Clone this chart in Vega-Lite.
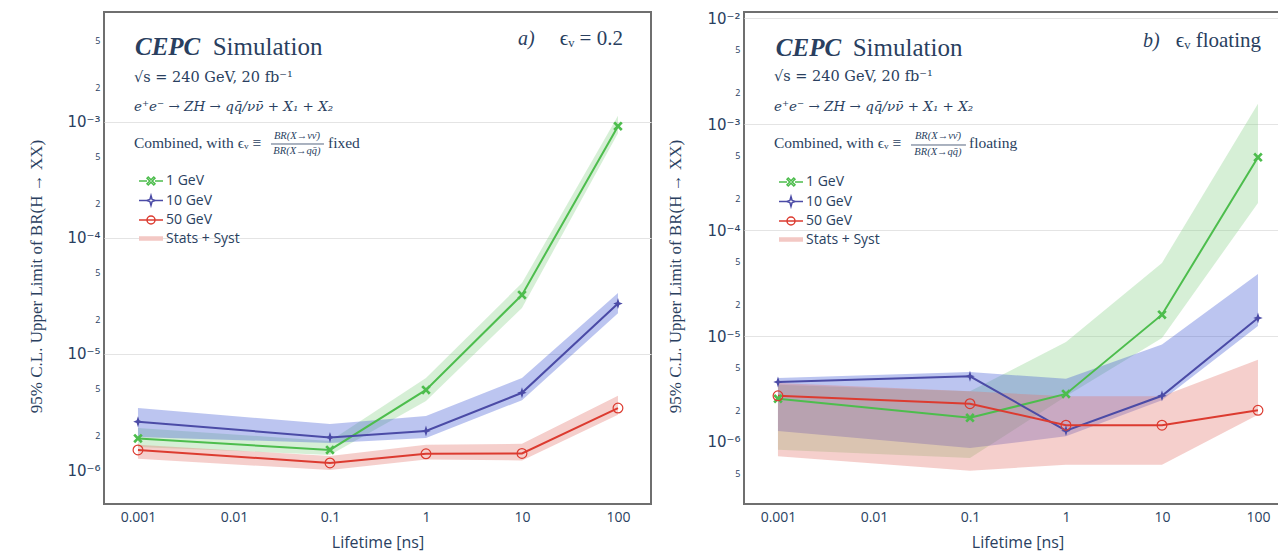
{
  "$schema": "https://vega.github.io/schema/vega-lite/v6.json",
  "usermeta": {"embedOptions": {"actions": false}},
  "background": "white",
  "padding": {"left": 26, "top": 10, "right": -13, "bottom": 0},
  "bounds": "flush",
  "spacing": 93,
  "datasets": {
    "limits": [
      {"panel": "a", "mass": "1 GeV", "lifetime": 0.001, "ul": 1.87e-6, "lo": 1.58e-6, "hi": 2.30e-6},
      {"panel": "a", "mass": "1 GeV", "lifetime": 0.1, "ul": 1.49e-6, "lo": 1.35e-6, "hi": 1.78e-6},
      {"panel": "a", "mass": "1 GeV", "lifetime": 1, "ul": 4.9e-6, "lo": 3.94e-6, "hi": 6.2e-6},
      {"panel": "a", "mass": "1 GeV", "lifetime": 10, "ul": 3.23e-5, "lo": 2.49e-5, "hi": 4.09e-5},
      {"panel": "a", "mass": "1 GeV", "lifetime": 100, "ul": 9.2e-4, "lo": 8.0e-4, "hi": 1.13e-3},
      {"panel": "a", "mass": "10 GeV", "lifetime": 0.001, "ul": 2.61e-6, "lo": 1.93e-6, "hi": 3.42e-6},
      {"panel": "a", "mass": "10 GeV", "lifetime": 0.1, "ul": 1.91e-6, "lo": 1.71e-6, "hi": 2.49e-6},
      {"panel": "a", "mass": "10 GeV", "lifetime": 1, "ul": 2.17e-6, "lo": 1.89e-6, "hi": 2.92e-6},
      {"panel": "a", "mass": "10 GeV", "lifetime": 10, "ul": 4.63e-6, "lo": 4.0e-6, "hi": 6.2e-6},
      {"panel": "a", "mass": "10 GeV", "lifetime": 100, "ul": 2.72e-5, "lo": 2.25e-5, "hi": 3.36e-5},
      {"panel": "a", "mass": "50 GeV", "lifetime": 0.001, "ul": 1.49e-6, "lo": 1.25e-6, "hi": 1.65e-6},
      {"panel": "a", "mass": "50 GeV", "lifetime": 0.1, "ul": 1.15e-6, "lo": 1.0e-6, "hi": 1.32e-6},
      {"panel": "a", "mass": "50 GeV", "lifetime": 1, "ul": 1.38e-6, "lo": 1.23e-6, "hi": 1.65e-6},
      {"panel": "a", "mass": "50 GeV", "lifetime": 10, "ul": 1.39e-6, "lo": 1.21e-6, "hi": 1.68e-6},
      {"panel": "a", "mass": "50 GeV", "lifetime": 100, "ul": 3.42e-6, "lo": 3.0e-6, "hi": 4.36e-6},
      {"panel": "b", "mass": "1 GeV", "lifetime": 0.001, "ul": 2.56e-6, "lo": 8.46e-7, "hi": 3.47e-6},
      {"panel": "b", "mass": "1 GeV", "lifetime": 0.1, "ul": 1.69e-6, "lo": 7.06e-7, "hi": 3.01e-6},
      {"panel": "b", "mass": "1 GeV", "lifetime": 1, "ul": 2.84e-6, "lo": 2.7e-6, "hi": 8.77e-6},
      {"panel": "b", "mass": "1 GeV", "lifetime": 10, "ul": 1.59e-5, "lo": 9.57e-6, "hi": 4.89e-5},
      {"panel": "b", "mass": "1 GeV", "lifetime": 100, "ul": 4.85e-4, "lo": 1.8e-4, "hi": 1.55e-3},
      {"panel": "b", "mass": "10 GeV", "lifetime": 0.001, "ul": 3.68e-6, "lo": 1.27e-6, "hi": 4.02e-6},
      {"panel": "b", "mass": "10 GeV", "lifetime": 0.1, "ul": 4.17e-6, "lo": 8.77e-7, "hi": 4.57e-6},
      {"panel": "b", "mass": "10 GeV", "lifetime": 1, "ul": 1.28e-6, "lo": 1.13e-6, "hi": 3.95e-6},
      {"panel": "b", "mass": "10 GeV", "lifetime": 10, "ul": 2.73e-6, "lo": 2.48e-6, "hi": 8.3e-6},
      {"panel": "b", "mass": "10 GeV", "lifetime": 100, "ul": 1.48e-5, "lo": 1.24e-5, "hi": 3.85e-5},
      {"panel": "b", "mass": "50 GeV", "lifetime": 0.001, "ul": 2.73e-6, "lo": 7.33e-7, "hi": 3.6e-6},
      {"panel": "b", "mass": "50 GeV", "lifetime": 0.1, "ul": 2.3e-6, "lo": 5.36e-7, "hi": 3.01e-6},
      {"panel": "b", "mass": "50 GeV", "lifetime": 1, "ul": 1.44e-6, "lo": 6.11e-7, "hi": 2.7e-6},
      {"panel": "b", "mass": "50 GeV", "lifetime": 10, "ul": 1.44e-6, "lo": 6.11e-7, "hi": 2.7e-6},
      {"panel": "b", "mass": "50 GeV", "lifetime": 100, "ul": 1.99e-6, "lo": 1.81e-6, "hi": 5.97e-6}
    ]
  },
  "config": {
    "font": "Open Sans",
    "view": {"stroke": "#6f6f6f", "strokeWidth": 2},
    "axis": {
      "labelColor": "#2a3f5f",
      "titleColor": "#2a3f5f",
      "labelFont": "Open Sans",
      "domain": false,
      "ticks": false,
      "gridColor": "#e4e4e4",
      "gridWidth": 1
    },
    "legend": {
      "title": null, "orient": "none", "padding": 0,
      "labelFont": "Open Sans", "labelFontSize": 14, "labelColor": "#2a3f5f",
      "symbolSize": 100, "symbolOffset": 7, "labelOffset": 8, "rowPadding": 4.5,
      "symbolStrokeWidth": 1.5, "symbolOpacity": 1
    }
  },
  "resolve": {
    "scale": {"x": "independent", "y": "independent", "color": "independent", "shape": "independent"},
    "legend": {"color": "independent", "shape": "independent"}
  },
  "hconcat": [
    {
      "width": 547,
      "height": 492,
      "data": {"name": "limits"},
      "transform": [{"filter": "datum.panel == 'a'"}],
      "layer": [
        {
          "transform": [{"filter": "datum.mass == '1 GeV'"}],
          "mark": {"type": "area", "opacity": 0.35, "color": "#8ad18a"},
          "encoding": {
            "x": {
              "field": "lifetime", "type": "quantitative",
              "scale": {"type": "log", "domain": [0.0004426, 220.8], "nice": false},
              "axis": {"values": [0.001, 0.01, 0.1, 1, 10, 100], "format": "~g", "labelFontSize": 14, "labelPadding": 6, "grid": false, "title": "Lifetime [ns]", "titleFont": "Open Sans", "titleFontSize": 16, "titleFontWeight": "normal", "titlePadding": 10}
            },
            "y": {
              "field": "lo", "type": "quantitative",
              "scale": {"type": "log", "domain": [5.093e-7, 8.87e-3], "nice": false},
              "axis": {
                "values": [1e-6, 2e-6, 5e-6, 1e-5, 2e-5, 5e-5, 1e-4, 2e-4, 5e-4, 1e-3, 2e-3, 5e-3],
                "labelExpr": "abs(log(datum.value)/LN10 - round(log(datum.value)/LN10)) < 0.001 ? '10⁻' + ['⁰','¹','²','³','⁴','⁵','⁶','⁷'][-round(log(datum.value)/LN10)] : format(datum.value / pow(10, floor(log(datum.value)/LN10 + 0.000001)), '.0f')",
                "labelFontSize": {"condition": {"test": "abs(log(datum.value)/LN10 - round(log(datum.value)/LN10)) < 0.001", "value": 15}, "value": 9},
                "labelFont": {"condition": {"test": "abs(log(datum.value)/LN10 - round(log(datum.value)/LN10)) < 0.001", "value": "DejaVu Sans"}, "value": "Open Sans"},
                "labelPadding": 4,
                "grid": true,
                "gridOpacity": {"condition": {"test": "abs(log(datum.value)/LN10 - round(log(datum.value)/LN10)) < 0.001 && datum.value > 2e-6", "value": 1}, "value": 0},
                "title": "95% C.L. Upper Limit of BR(H → XX)",
                "titleFont": "Liberation Serif",
                "titleFontSize": 17,
                "titleFontWeight": "normal",
                "titleX": -68,
                "titleY": 264,
                "titleBaseline": "middle"
              }
            },
            "y2": {"field": "hi"}
          }
        },
        {
          "transform": [{"filter": "datum.mass == '10 GeV'"}],
          "mark": {"type": "area", "opacity": 0.35, "color": "#4059d4"},
          "encoding": {"x": {"field": "lifetime", "type": "quantitative"}, "y": {"field": "lo", "type": "quantitative"}, "y2": {"field": "hi"}}
        },
        {
          "transform": [{"filter": "datum.mass == '50 GeV'"}],
          "mark": {"type": "area", "opacity": 0.35, "color": "#e2766d"},
          "encoding": {"x": {"field": "lifetime", "type": "quantitative"}, "y": {"field": "lo", "type": "quantitative"}, "y2": {"field": "hi"}}
        },
        {
          "transform": [{"filter": "datum.mass == '1 GeV'"}],
          "mark": {"type": "line", "strokeWidth": 2, "color": "#4dbd4d"},
          "encoding": {"x": {"field": "lifetime", "type": "quantitative"}, "y": {"field": "ul", "type": "quantitative"}}
        },
        {
          "transform": [{"filter": "datum.mass == '10 GeV'"}],
          "mark": {"type": "line", "strokeWidth": 2, "color": "#4b4ba6"},
          "encoding": {"x": {"field": "lifetime", "type": "quantitative"}, "y": {"field": "ul", "type": "quantitative"}}
        },
        {
          "transform": [{"filter": "datum.mass == '50 GeV'"}],
          "mark": {"type": "line", "strokeWidth": 2, "color": "#dc3b30"},
          "encoding": {"x": {"field": "lifetime", "type": "quantitative"}, "y": {"field": "ul", "type": "quantitative"}}
        },
        {
          "transform": [{"filter": "datum.mass == '1 GeV'"}],
          "mark": {"type": "point", "shape": "M-1,-0.6L-0.6,-1L0,-0.4L0.6,-1L1,-0.6L0.4,0L1,0.6L0.6,1L0,0.4L-0.6,1L-1,0.6L-0.4,0Z", "filled": true, "size": 90, "color": "#4dbd4d", "opacity": 1},
          "encoding": {"x": {"field": "lifetime", "type": "quantitative"}, "y": {"field": "ul", "type": "quantitative"}}
        },
        {
          "transform": [{"filter": "datum.mass == '10 GeV'"}],
          "mark": {"type": "point", "shape": "M0,-1.15L0.28,-0.28L1,0L0.28,0.28L0,1.15L-0.28,0.28L-1,0L-0.28,-0.28Z", "filled": true, "size": 90, "color": "#4b4ba6", "opacity": 1},
          "encoding": {"x": {"field": "lifetime", "type": "quantitative"}, "y": {"field": "ul", "type": "quantitative"}}
        },
        {
          "transform": [{"filter": "datum.mass == '50 GeV'"}],
          "mark": {"type": "point", "shape": "circle", "filled": false, "size": 95, "strokeWidth": 1.2, "color": "#dc3b30", "opacity": 1},
          "encoding": {"x": {"field": "lifetime", "type": "quantitative"}, "y": {"field": "ul", "type": "quantitative"}}
        },
        {
          "mark": {"type": "point", "filled": false, "opacity": 0},
          "encoding": {
            "x": {"field": "lifetime", "type": "quantitative"},
            "y": {"field": "ul", "type": "quantitative"},
            "color": {"field": "mass", "type": "nominal", "scale": {"domain": ["1 GeV", "10 GeV", "50 GeV", "Stats + Syst"], "range": ["#4dbd4d", "#4b4ba6", "#dc3b30", "#f3c8c4"]}, "legend": {"legendX": 33, "legendY": 162}},
            "shape": {"field": "mass", "type": "nominal", "scale": {"domain": ["1 GeV", "10 GeV", "50 GeV", "Stats + Syst"], "range": ["M-2.4,0H-0.8M0.8,0H2.4M-0.8,-0.55L-0.55,-0.8L0,-0.25L0.55,-0.8L0.8,-0.55L0.25,0L0.8,0.55L0.55,0.8L0,0.25L-0.55,0.8L-0.8,0.55L-0.25,0Z", "M-2.4,0H-0.9M0.9,0H2.4M0,-1L0.22,-0.22L0.9,0L0.22,0.22L0,1L-0.22,0.22L-0.9,0L-0.22,-0.22Z", "M-2.4,0H2.4M0.8,0A0.8,0.8,0,1,1,-0.8,0A0.8,0.8,0,1,1,0.8,0", "M-2.4,-0.3H2.4M-2.4,-0.1H2.4M-2.4,0.1H2.4M-2.4,0.3H2.4"]}, "legend": {"legendX": 33, "legendY": 162}}
          }
        },
        {
          "data": {"values": [{}]},
          "mark": {"type": "text", "text": "CEPC", "font": "Liberation Serif", "color": "#2a3f5f", "fontSize": 25, "fontStyle": "italic", "fontWeight": "bold", "align": "left", "baseline": "alphabetic"},
          "encoding": {"x": {"datum": 0.00093, "type": "quantitative"}, "y": {"datum": 0.0038, "type": "quantitative"}}
        },
        {
          "data": {"values": [{}]},
          "mark": {"type": "text", "text": "Simulation", "font": "Liberation Serif", "color": "#2a3f5f", "fontSize": 25, "align": "left", "baseline": "alphabetic"},
          "encoding": {"x": {"datum": 0.0060, "type": "quantitative"}, "y": {"datum": 0.0038, "type": "quantitative"}}
        },
        {
          "data": {"values": [{}]},
          "mark": {"type": "text", "text": "√s = 240 GeV, 20 fb⁻¹", "font": "DejaVu Serif", "color": "#2a3f5f", "fontSize": 14.5, "align": "left", "baseline": "alphabetic"},
          "encoding": {"x": {"datum": 0.000908, "type": "quantitative"}, "y": {"datum": 0.00221, "type": "quantitative"}}
        },
        {
          "data": {"values": [{}]},
          "mark": {"type": "text", "text": "e⁺e⁻ → ZH → qq̄/νν̄ + X₁ + X₂", "font": "DejaVu Serif", "color": "#2a3f5f", "fontSize": 13.5, "fontStyle": "italic", "align": "left", "baseline": "alphabetic"},
          "encoding": {"x": {"datum": 0.000908, "type": "quantitative"}, "y": {"datum": 0.00124, "type": "quantitative"}}
        },
        {
          "data": {"values": [{}]},
          "mark": {"type": "text", "text": "Combined, with ϵᵥ ≡", "font": "Liberation Serif", "color": "#2a3f5f", "fontSize": 15.5, "align": "left", "baseline": "alphabetic"},
          "encoding": {"x": {"datum": 0.000908, "type": "quantitative"}, "y": {"datum": 0.000597, "type": "quantitative"}}
        },
        {
          "data": {"values": [{}]},
          "mark": {"type": "text", "text": "BR(X→νν̄)", "font": "Liberation Serif", "color": "#2a3f5f", "fontSize": 10.5, "fontStyle": "italic", "align": "center", "baseline": "alphabetic"},
          "encoding": {"x": {"datum": 0.0453, "type": "quantitative"}, "y": {"datum": 0.000718, "type": "quantitative"}}
        },
        {
          "data": {"values": [{}]},
          "mark": {"type": "text", "text": "BR(X→qq̄)", "font": "Liberation Serif", "color": "#2a3f5f", "fontSize": 10.5, "fontStyle": "italic", "align": "center", "baseline": "alphabetic"},
          "encoding": {"x": {"datum": 0.0453, "type": "quantitative"}, "y": {"datum": 0.000533, "type": "quantitative"}}
        },
        {
          "data": {"values": [{}]},
          "mark": {"type": "rule", "color": "#2a3f5f", "strokeWidth": 0.8},
          "encoding": {"x": {"datum": 0.0243, "type": "quantitative"}, "x2": {"datum": 0.0866}, "y": {"datum": 0.000646, "type": "quantitative"}}
        },
        {
          "data": {"values": [{}]},
          "mark": {"type": "text", "text": "fixed", "font": "Liberation Serif", "color": "#2a3f5f", "fontSize": 15.5, "align": "left", "baseline": "alphabetic"},
          "encoding": {"x": {"datum": 0.0953, "type": "quantitative"}, "y": {"datum": 0.000597, "type": "quantitative"}}
        },
        {
          "data": {"values": [{}]},
          "mark": {"type": "text", "text": "a)", "font": "Liberation Serif", "color": "#2a3f5f", "fontSize": 20, "fontStyle": "italic", "align": "left", "baseline": "alphabetic"},
          "encoding": {"x": {"datum": 9.08, "type": "quantitative"}, "y": {"datum": 0.00458, "type": "quantitative"}}
        },
        {
          "data": {"values": [{}]},
          "mark": {"type": "text", "text": "ϵᵥ = 0.2", "font": "Liberation Serif", "color": "#2a3f5f", "fontSize": 21, "align": "right", "baseline": "alphabetic"},
          "encoding": {"x": {"datum": 112.6, "type": "quantitative"}, "y": {"datum": 0.00458, "type": "quantitative"}}
        }
      ]
    },
    {
      "width": 547,
      "height": 492,
      "data": {"name": "limits"},
      "transform": [{"filter": "datum.panel == 'b'"}],
      "layer": [
        {
          "transform": [{"filter": "datum.mass == '1 GeV'"}],
          "mark": {"type": "area", "opacity": 0.35, "color": "#8ad18a"},
          "encoding": {
            "x": {
              "field": "lifetime", "type": "quantitative",
              "scale": {"type": "log", "domain": [0.0004426, 220.8], "nice": false},
              "axis": {"values": [0.001, 0.01, 0.1, 1, 10, 100], "format": "~g", "labelFontSize": 14, "labelPadding": 6, "grid": false, "title": "Lifetime [ns]", "titleFont": "Open Sans", "titleFontSize": 16, "titleFontWeight": "normal", "titlePadding": 10}
            },
            "y": {
              "field": "lo", "type": "quantitative",
              "scale": {"type": "log", "domain": [2.6e-7, 1.14e-2], "nice": false},
              "axis": {
                "values": [5e-7, 1e-6, 2e-6, 5e-6, 1e-5, 2e-5, 5e-5, 1e-4, 2e-4, 5e-4, 1e-3, 2e-3, 5e-3, 1e-2],
                "labelExpr": "abs(log(datum.value)/LN10 - round(log(datum.value)/LN10)) < 0.001 ? '10⁻' + ['⁰','¹','²','³','⁴','⁵','⁶','⁷'][-round(log(datum.value)/LN10)] : format(datum.value / pow(10, floor(log(datum.value)/LN10 + 0.000001)), '.0f')",
                "labelFontSize": {"condition": {"test": "abs(log(datum.value)/LN10 - round(log(datum.value)/LN10)) < 0.001", "value": 15}, "value": 9},
                "labelFont": {"condition": {"test": "abs(log(datum.value)/LN10 - round(log(datum.value)/LN10)) < 0.001", "value": "DejaVu Sans"}, "value": "Open Sans"},
                "labelPadding": 4,
                "grid": true,
                "gridOpacity": {"condition": {"test": "abs(log(datum.value)/LN10 - round(log(datum.value)/LN10)) < 0.001 && datum.value > 2e-6", "value": 1}, "value": 0},
                "title": "95% C.L. Upper Limit of BR(H → XX)",
                "titleFont": "Liberation Serif",
                "titleFontSize": 17,
                "titleFontWeight": "normal",
                "titleX": -69,
                "titleY": 264,
                "titleBaseline": "middle"
              }
            },
            "y2": {"field": "hi"}
          }
        },
        {
          "transform": [{"filter": "datum.mass == '10 GeV'"}],
          "mark": {"type": "area", "opacity": 0.35, "color": "#4059d4"},
          "encoding": {"x": {"field": "lifetime", "type": "quantitative"}, "y": {"field": "lo", "type": "quantitative"}, "y2": {"field": "hi"}}
        },
        {
          "transform": [{"filter": "datum.mass == '50 GeV'"}],
          "mark": {"type": "area", "opacity": 0.35, "color": "#e2766d"},
          "encoding": {"x": {"field": "lifetime", "type": "quantitative"}, "y": {"field": "lo", "type": "quantitative"}, "y2": {"field": "hi"}}
        },
        {
          "transform": [{"filter": "datum.mass == '1 GeV'"}],
          "mark": {"type": "line", "strokeWidth": 2, "color": "#4dbd4d"},
          "encoding": {"x": {"field": "lifetime", "type": "quantitative"}, "y": {"field": "ul", "type": "quantitative"}}
        },
        {
          "transform": [{"filter": "datum.mass == '10 GeV'"}],
          "mark": {"type": "line", "strokeWidth": 2, "color": "#4b4ba6"},
          "encoding": {"x": {"field": "lifetime", "type": "quantitative"}, "y": {"field": "ul", "type": "quantitative"}}
        },
        {
          "transform": [{"filter": "datum.mass == '50 GeV'"}],
          "mark": {"type": "line", "strokeWidth": 2, "color": "#dc3b30"},
          "encoding": {"x": {"field": "lifetime", "type": "quantitative"}, "y": {"field": "ul", "type": "quantitative"}}
        },
        {
          "transform": [{"filter": "datum.mass == '1 GeV'"}],
          "mark": {"type": "point", "shape": "M-1,-0.6L-0.6,-1L0,-0.4L0.6,-1L1,-0.6L0.4,0L1,0.6L0.6,1L0,0.4L-0.6,1L-1,0.6L-0.4,0Z", "filled": true, "size": 90, "color": "#4dbd4d", "opacity": 1},
          "encoding": {"x": {"field": "lifetime", "type": "quantitative"}, "y": {"field": "ul", "type": "quantitative"}}
        },
        {
          "transform": [{"filter": "datum.mass == '10 GeV'"}],
          "mark": {"type": "point", "shape": "M0,-1.15L0.28,-0.28L1,0L0.28,0.28L0,1.15L-0.28,0.28L-1,0L-0.28,-0.28Z", "filled": true, "size": 90, "color": "#4b4ba6", "opacity": 1},
          "encoding": {"x": {"field": "lifetime", "type": "quantitative"}, "y": {"field": "ul", "type": "quantitative"}}
        },
        {
          "transform": [{"filter": "datum.mass == '50 GeV'"}],
          "mark": {"type": "point", "shape": "circle", "filled": false, "size": 95, "strokeWidth": 1.2, "color": "#dc3b30", "opacity": 1},
          "encoding": {"x": {"field": "lifetime", "type": "quantitative"}, "y": {"field": "ul", "type": "quantitative"}}
        },
        {
          "mark": {"type": "point", "filled": false, "opacity": 0},
          "encoding": {
            "x": {"field": "lifetime", "type": "quantitative"},
            "y": {"field": "ul", "type": "quantitative"},
            "color": {"field": "mass", "type": "nominal", "scale": {"domain": ["1 GeV", "10 GeV", "50 GeV", "Stats + Syst"], "range": ["#4dbd4d", "#4b4ba6", "#dc3b30", "#f3c8c4"]}, "legend": {"legendX": 33, "legendY": 163}},
            "shape": {"field": "mass", "type": "nominal", "scale": {"domain": ["1 GeV", "10 GeV", "50 GeV", "Stats + Syst"], "range": ["M-2.4,0H-0.8M0.8,0H2.4M-0.8,-0.55L-0.55,-0.8L0,-0.25L0.55,-0.8L0.8,-0.55L0.25,0L0.8,0.55L0.55,0.8L0,0.25L-0.55,0.8L-0.8,0.55L-0.25,0Z", "M-2.4,0H-0.9M0.9,0H2.4M0,-1L0.22,-0.22L0.9,0L0.22,0.22L0,1L-0.22,0.22L-0.9,0L-0.22,-0.22Z", "M-2.4,0H2.4M0.8,0A0.8,0.8,0,1,1,-0.8,0A0.8,0.8,0,1,1,0.8,0", "M-2.4,-0.3H2.4M-2.4,-0.1H2.4M-2.4,0.1H2.4M-2.4,0.3H2.4"]}, "legend": {"legendX": 33, "legendY": 163}}
          }
        },
        {
          "data": {"values": [{}]},
          "mark": {"type": "text", "text": "CEPC", "font": "Liberation Serif", "color": "#2a3f5f", "fontSize": 25, "fontStyle": "italic", "fontWeight": "bold", "align": "left", "baseline": "alphabetic"},
          "encoding": {"x": {"datum": 0.00095, "type": "quantitative"}, "y": {"datum": 0.0044, "type": "quantitative"}}
        },
        {
          "data": {"values": [{}]},
          "mark": {"type": "text", "text": "Simulation", "font": "Liberation Serif", "color": "#2a3f5f", "fontSize": 25, "align": "left", "baseline": "alphabetic"},
          "encoding": {"x": {"datum": 0.0060, "type": "quantitative"}, "y": {"datum": 0.0044, "type": "quantitative"}}
        },
        {
          "data": {"values": [{}]},
          "mark": {"type": "text", "text": "√s = 240 GeV, 20 fb⁻¹", "font": "DejaVu Serif", "color": "#2a3f5f", "fontSize": 14.5, "align": "left", "baseline": "alphabetic"},
          "encoding": {"x": {"datum": 0.000908, "type": "quantitative"}, "y": {"datum": 0.00253, "type": "quantitative"}}
        },
        {
          "data": {"values": [{}]},
          "mark": {"type": "text", "text": "e⁺e⁻ → ZH → qq̄/νν̄ + X₁ + X₂", "font": "DejaVu Serif", "color": "#2a3f5f", "fontSize": 13.5, "fontStyle": "italic", "align": "left", "baseline": "alphabetic"},
          "encoding": {"x": {"datum": 0.000908, "type": "quantitative"}, "y": {"datum": 0.00132, "type": "quantitative"}}
        },
        {
          "data": {"values": [{}]},
          "mark": {"type": "text", "text": "Combined, with ϵᵥ ≡", "font": "Liberation Serif", "color": "#2a3f5f", "fontSize": 15.5, "align": "left", "baseline": "alphabetic"},
          "encoding": {"x": {"datum": 0.000908, "type": "quantitative"}, "y": {"datum": 0.000594, "type": "quantitative"}}
        },
        {
          "data": {"values": [{}]},
          "mark": {"type": "text", "text": "BR(X→νν̄)", "font": "Liberation Serif", "color": "#2a3f5f", "fontSize": 10.5, "fontStyle": "italic", "align": "center", "baseline": "alphabetic"},
          "encoding": {"x": {"datum": 0.0464, "type": "quantitative"}, "y": {"datum": 0.000726, "type": "quantitative"}}
        },
        {
          "data": {"values": [{}]},
          "mark": {"type": "text", "text": "BR(X→qq̄)", "font": "Liberation Serif", "color": "#2a3f5f", "fontSize": 10.5, "fontStyle": "italic", "align": "center", "baseline": "alphabetic"},
          "encoding": {"x": {"datum": 0.0464, "type": "quantitative"}, "y": {"datum": 0.000513, "type": "quantitative"}}
        },
        {
          "data": {"values": [{}]},
          "mark": {"type": "rule", "color": "#2a3f5f", "strokeWidth": 0.8},
          "encoding": {"x": {"datum": 0.0243, "type": "quantitative"}, "x2": {"datum": 0.0908}, "y": {"datum": 0.000634, "type": "quantitative"}}
        },
        {
          "data": {"values": [{}]},
          "mark": {"type": "text", "text": "floating", "font": "Liberation Serif", "color": "#2a3f5f", "fontSize": 15.5, "align": "left", "baseline": "alphabetic"},
          "encoding": {"x": {"datum": 0.0977, "type": "quantitative"}, "y": {"datum": 0.000594, "type": "quantitative"}}
        },
        {
          "data": {"values": [{}]},
          "mark": {"type": "text", "text": "b)", "font": "Liberation Serif", "color": "#2a3f5f", "fontSize": 20, "fontStyle": "italic", "align": "left", "baseline": "alphabetic"},
          "encoding": {"x": {"datum": 6.34, "type": "quantitative"}, "y": {"datum": 0.0053, "type": "quantitative"}}
        },
        {
          "data": {"values": [{}]},
          "mark": {"type": "text", "text": "ϵᵥ floating", "font": "Liberation Serif", "color": "#2a3f5f", "fontSize": 21, "align": "right", "baseline": "alphabetic"},
          "encoding": {"x": {"datum": 107.5, "type": "quantitative"}, "y": {"datum": 0.0053, "type": "quantitative"}}
        }
      ]
    }
  ]
}
